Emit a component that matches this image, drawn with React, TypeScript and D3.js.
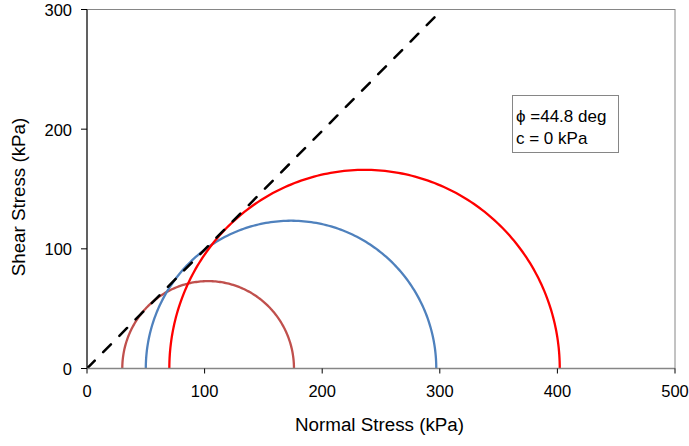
import { useEffect, useRef } from "react";
import * as d3 from "d3";

// Mohr circles: minor / major principal stress (kPa)
const sigma3 = [30, 50, 70];
const sigma1 = [176, 297, 402];
const circleColors = ["#C0504D", "#4F81BD", "#FF0000"];

const phiDeg = 44.8;
const cohesion = 0;

const xTicks = [0, 100, 200, 300, 400, 500];
const yTicks = [0, 100, 200, 300];

export default function App() {
  const svgRef = useRef<SVGSVGElement>(null);

  useEffect(() => {
    const svg = d3.select(svgRef.current);
    svg.selectAll("*").remove();

    const left = 87, right = 675, top = 9.5, bottom = 368.5;
    const x = d3.scaleLinear().domain([0, 500]).range([left, right]);
    const y = d3.scaleLinear().domain([0, 300]).range([bottom, top]);
    const font = "Liberation Sans, Arial, sans-serif";

    // frame
    svg.append("rect")
      .attr("x", left).attr("y", top)
      .attr("width", right - left).attr("height", bottom - top)
      .attr("fill", "none").attr("stroke", "#868686").attr("stroke-width", 1);

    const clip = svg.append("clipPath").attr("id", "plot");
    clip.append("rect").attr("x", left).attr("y", top - 1)
      .attr("width", right - left).attr("height", bottom - top + 1);

    const g = svg.append("g").attr("clip-path", "url(#plot)");

    // circles
    const angles = d3.range(0, 181, 1).map(d => d * Math.PI / 180);
    const line = d3.line<[number, number]>().x(d => x(d[0])).y(d => y(d[1]));
    sigma3.forEach((s3, i) => {
      const c = (s3 + sigma1[i]) / 2;
      const r = (sigma1[i] - s3) / 2;
      const pts: [number, number][] = angles.map(a => [c - r * Math.cos(a), r * Math.sin(a)]);
      g.append("path")
        .attr("d", line(pts))
        .attr("fill", "none")
        .attr("stroke", circleColors[i])
        .attr("stroke-width", 2.3);
    });

    // failure envelope
    const tanPhi = Math.tan(phiDeg * Math.PI / 180);
    const xEnd = (300 - cohesion) / tanPhi;
    g.append("path")
      .attr("d", line([[0, cohesion], [xEnd, 300]]))
      .attr("fill", "none")
      .attr("stroke", "#000")
      .attr("stroke-width", 2.5)
      .attr("stroke-linecap", "round")
      .attr("stroke-dasharray", "11,12");

    // axes lines
    svg.append("line").attr("x1", left).attr("x2", left).attr("y1", top).attr("y2", bottom)
      .attr("stroke", "#000").attr("stroke-width", 1);
    svg.append("line").attr("x1", left).attr("x2", right).attr("y1", bottom).attr("y2", bottom)
      .attr("stroke", "#868686").attr("stroke-width", 1.3);

    // x ticks
    xTicks.forEach(t => {
      svg.append("line").attr("x1", x(t)).attr("x2", x(t)).attr("y1", bottom).attr("y2", bottom + 5)
        .attr("stroke", "#000");
      svg.append("text").attr("x", x(t)).attr("y", bottom + 28.5)
        .attr("text-anchor", "middle").attr("font-family", font).attr("font-size", 16.5)
        .attr("fill", "#000").text(t);
    });
    // y ticks
    yTicks.forEach(t => {
      svg.append("line").attr("x1", left - 6).attr("x2", left).attr("y1", y(t)).attr("y2", y(t))
        .attr("stroke", "#000");
      svg.append("text").attr("x", left - 15).attr("y", y(t) + 6.5)
        .attr("text-anchor", "end").attr("font-family", font).attr("font-size", 16.5)
        .attr("fill", "#000").text(t);
    });

    // axis titles
    svg.append("text").attr("x", 379.5).attr("y", 431)
      .attr("text-anchor", "middle").attr("font-family", font).attr("font-size", 18.8)
      .attr("fill", "#000").text("Normal Stress (kPa)");
    svg.append("text")
      .attr("transform", "translate(25,197) rotate(-90)")
      .attr("text-anchor", "middle").attr("font-family", font).attr("font-size", 18.8)
      .attr("fill", "#000").text("Shear Stress (kPa)");

    // annotation box
    svg.append("rect").attr("x", 512.5).attr("y", 95.5).attr("width", 106).attr("height", 57)
      .attr("fill", "#fff").attr("stroke", "#868686");
    svg.append("text").attr("x", 516).attr("y", 122)
      .attr("font-family", font).attr("font-size", 17).attr("fill", "#000")
      .text(`ϕ =${phiDeg} deg`);
    svg.append("text").attr("x", 516).attr("y", 143.5)
      .attr("font-family", font).attr("font-size", 17).attr("fill", "#000")
      .text(`c = ${cohesion} kPa`);
  }, []);

  return (
    <svg ref={svgRef} width={689} height={446}
      style={{ position: "absolute", left: 0, top: 0, background: "#fff" }} />
  );
}
